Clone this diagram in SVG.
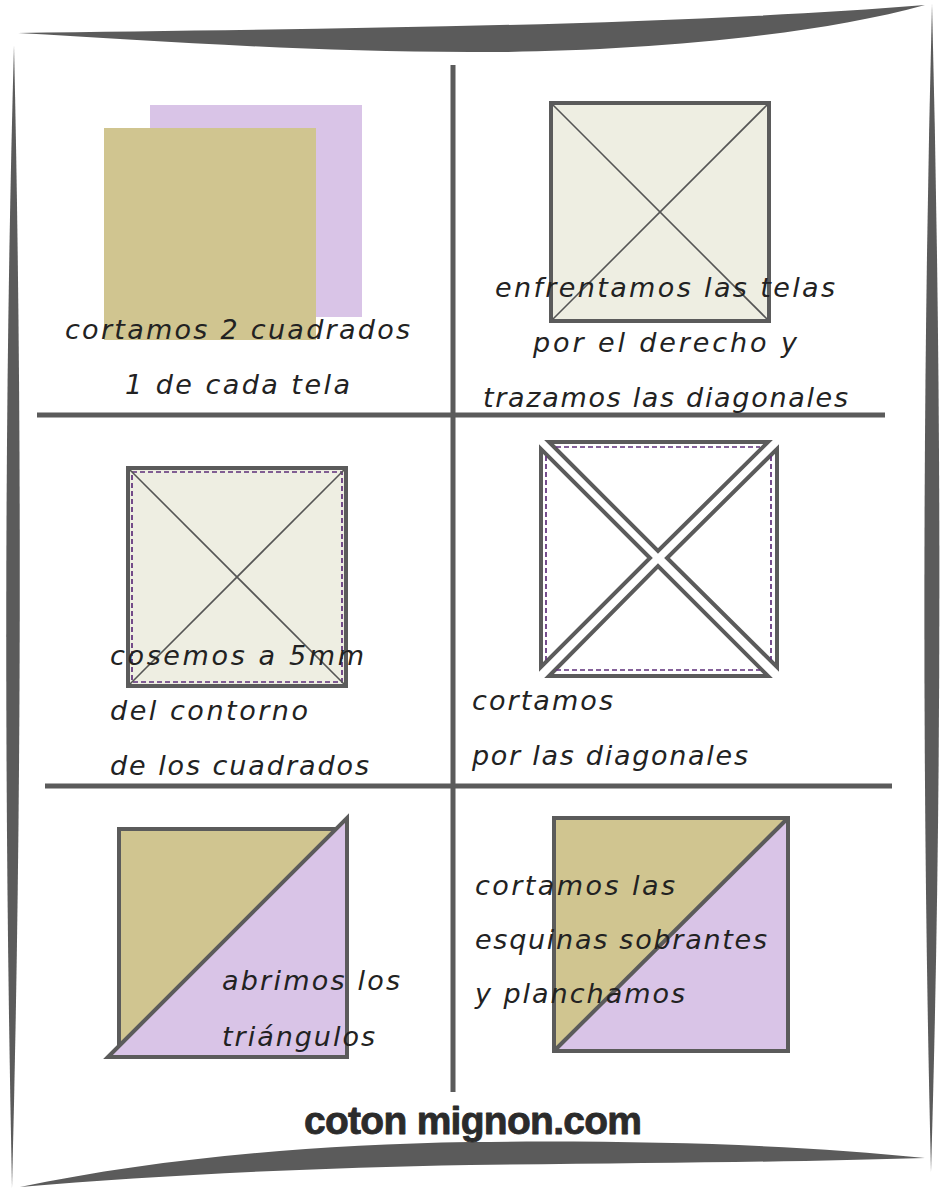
<svg xmlns="http://www.w3.org/2000/svg" width="940" height="1200" viewBox="0 0 940 1200">
<style>
.frame{fill:#5b5b5b}
.grid{stroke:#5b5b5b;stroke-width:5;fill:none}
.sq{stroke:#5b5b5b;stroke-width:4}
.cream{fill:#eeeee2}
.tan{fill:#d0c590}
.lil{fill:#d9c4e7}
.diag{stroke:#555;stroke-width:1.6;fill:none}
.dash{stroke:#5e2f7a;stroke-width:1.7;stroke-dasharray:5 3;fill:none}
.tri{fill:#fff;stroke:#5b5b5b;stroke-width:4;stroke-linejoin:miter}
.t{font-family:"DejaVu Sans","Noto Sans",sans-serif;font-style:oblique;font-size:27px;fill:#222}
.logo{font-family:"Liberation Sans","Arial",sans-serif;font-weight:bold;font-size:39px;fill:#2b2b2b;stroke:#2b2b2b;stroke-width:0.8;stroke-linejoin:round}
</style>
<rect width="940" height="1200" fill="#fff"/>
<g id="frame">
<path class="frame" d="M18,33 C300,29 650,27 925,5 C800,40 600,53 470,52 C300,52 150,40 18,33 Z"/>
<path class="frame" d="M20,1187 C150,1160 300,1145 470,1142 C650,1140 800,1145 925,1158 C800,1162 650,1163 470,1165 C300,1168 150,1176 20,1187 Z"/>
<path class="frame" d="M14,45 C4,400 4,800 12,1188 C22,800 22,400 14,45 Z"/>
<path class="frame" d="M932,3 C922,400 922,800 931,1172 C942,800 942,400 932,3 Z"/>
</g>
<g id="connectors">
<line class="grid" x1="453" y1="65" x2="453" y2="1092"/>
<line class="grid" x1="37" y1="415" x2="885" y2="415"/>
<line class="grid" x1="45" y1="786" x2="892" y2="786"/>
</g>
<g id="step1">
<rect class="lil" x="150" y="105" width="212" height="212"/>
<rect class="tan" x="104" y="128" width="212" height="212"/>
<text class="t" x="65" y="339" textLength="345" lengthAdjust="spacing">cortamos 2 cuadrados</text>
<text class="t" x="125" y="394" textLength="225" lengthAdjust="spacing">1 de cada tela</text>
</g>
<g id="step2">
<rect class="sq cream" x="551" y="103" width="218" height="218"/>
<line class="diag" x1="553" y1="105" x2="767" y2="319"/>
<line class="diag" x1="767" y1="105" x2="553" y2="319"/>
<text class="t" x="495" y="297" textLength="340" lengthAdjust="spacing">enfrentamos las telas</text>
<text class="t" x="533" y="352" textLength="264" lengthAdjust="spacing">por el derecho y</text>
<text class="t" x="483" y="407" textLength="365" lengthAdjust="spacing">trazamos las diagonales</text>
</g>
<g id="step3">
<rect class="sq cream" x="128" y="468" width="218" height="218"/>
<rect class="dash" x="132" y="472" width="210" height="210"/>
<line class="diag" x1="130" y1="470" x2="344" y2="684"/>
<line class="diag" x1="344" y1="470" x2="130" y2="684"/>
<text class="t" x="110" y="665" textLength="254" lengthAdjust="spacing">cosemos a 5mm</text>
<text class="t" x="110" y="720" textLength="198" lengthAdjust="spacing">del contorno</text>
<text class="t" x="110" y="775" textLength="259" lengthAdjust="spacing">de los cuadrados</text>
</g>
<g id="step4">
<polygon class="tri" points="549,442 768,442 658,551"/>
<polygon class="tri" points="541,449 541,667 650,558"/>
<polygon class="tri" points="777,449 777,667 667,558"/>
<polygon class="tri" points="549,676 768,676 658,566"/>
<line class="dash" x1="556" y1="447" x2="760" y2="447"/>
<line class="dash" x1="546" y1="456" x2="546" y2="660"/>
<line class="dash" x1="771" y1="456" x2="771" y2="660"/>
<line class="dash" x1="556" y1="670" x2="760" y2="670"/>
<text class="t" x="472" y="710" textLength="141" lengthAdjust="spacing">cortamos</text>
<text class="t" x="472" y="765" textLength="276" lengthAdjust="spacing">por las diagonales</text>
</g>
<g id="step5">
<rect class="sq tan" x="119" y="829" width="228" height="228"/>
<polygon class="sq lil" points="108,1057 347,818 347,1057" stroke-linejoin="miter"/>
<text class="t" x="222" y="990" textLength="178" lengthAdjust="spacing">abrimos los</text>
<text class="t" x="222" y="1046" textLength="153" lengthAdjust="spacing">triángulos</text>
</g>
<g id="step6">
<rect class="sq tan" x="554" y="818" width="234" height="233"/>
<polygon class="lil" points="556,1049 786,820 786,1049"/>
<line x1="555" y1="1050" x2="787" y2="819" stroke="#5b5b5b" stroke-width="4"/>
<text class="t" x="475" y="895" textLength="200" lengthAdjust="spacing">cortamos las</text>
<text class="t" x="475" y="949" textLength="292" lengthAdjust="spacing">esquinas sobrantes</text>
<text class="t" x="475" y="1003" textLength="210" lengthAdjust="spacing">y planchamos</text>
</g>
<g id="footer">
<text class="logo" x="304" y="1134" textLength="338" lengthAdjust="spacing">coton mignon.com</text>
</g>
</svg>
